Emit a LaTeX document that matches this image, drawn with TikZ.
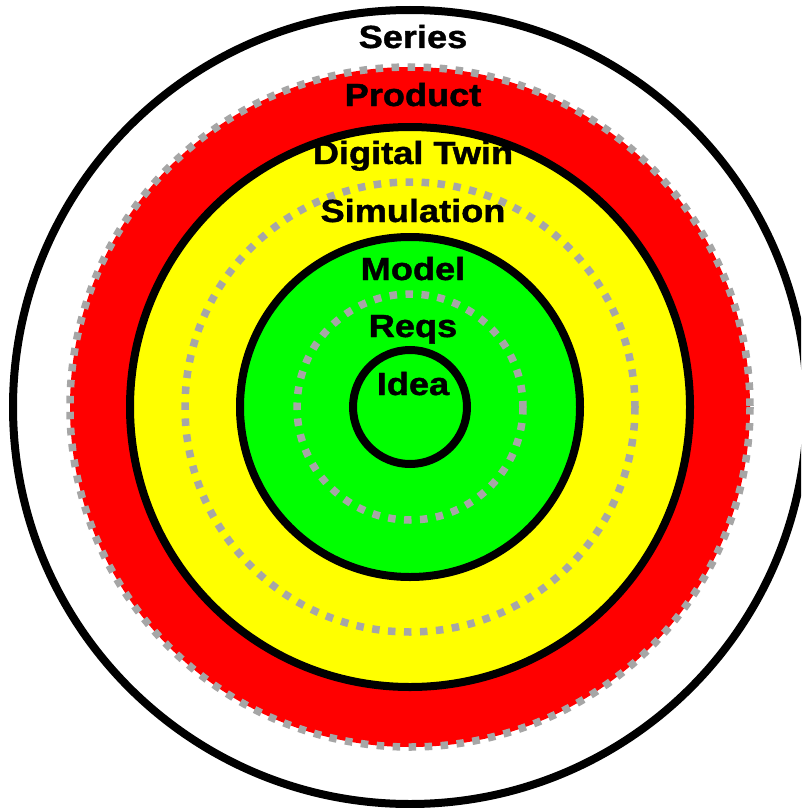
\documentclass[tikz,border=0pt]{standalone}
\usepackage{fontspec}
\setmainfont{Liberation Sans}
\newfontfamily\heavyfont[FakeBold=1.2]{Liberation Sans Bold}
\definecolor{ringred}{RGB}{255,0,0}
\definecolor{ringyellow}{RGB}{255,255,0}
\definecolor{ringgreen}{RGB}{0,255,0}
\definecolor{dotgray}{RGB}{166,166,166}
\begin{document}
\begin{tikzpicture}[x=1pt,y=-1pt,
  ring/.style={draw=black,line width=8pt},
  dotring/.style={draw=dotgray,line width=7.5pt,dash pattern=on 7.5pt off 8.5pt},
  lbl/.style={anchor=base,inner sep=0pt,font=\fontsize{32}{32}\selectfont\heavyfont}]
\clip (0,0) rectangle (801,808);
\fill[white] (0,0) rectangle (801,808);
\coordinate (c) at (410,407);
\draw[ring] (c) circle[radius=397];
\fill[ringred] (c) circle[radius=340];
\draw[dotring] (c) circle[radius=340];
\draw[ring,fill=ringyellow] (c) circle[radius=280];
\draw[dotring] (c) circle[radius=225];
\draw[ring,fill=ringgreen] (c) circle[radius=170];
\draw[dotring] (c) circle[radius=113];
\draw[ring] (c) circle[radius=57];
\node[lbl] (series) at (413,48) {\scalebox{1.13}[1]{Series}};
\node[lbl] (product) at (413,106) {\scalebox{1.13}[1]{Product}};
\node[lbl] (twin) at (413,164) {\scalebox{1.13}[1]{Digital Twin}};
\node[lbl] (sim) at (413,222) {\scalebox{1.13}[1]{Simulation}};
\node[lbl] (model) at (413,280) {\scalebox{1.13}[1]{Model}};
\node[lbl] (reqs) at (413,337) {\scalebox{1.13}[1]{Reqs}};
\node[lbl] (idea) at (413,395) {\scalebox{1.13}[1]{Idea}};
\end{tikzpicture}
\end{document}
